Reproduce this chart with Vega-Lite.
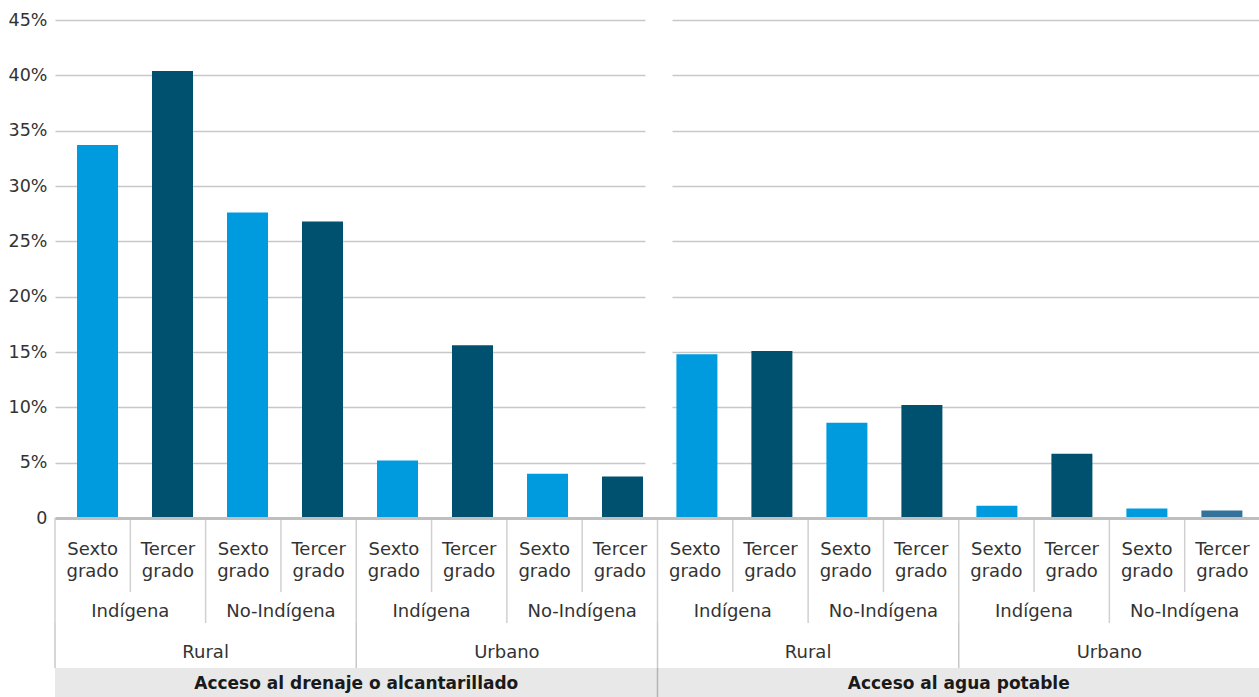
{
  "$schema": "https://vega.github.io/schema/vega-lite/v6.json",
  "padding": {"left": 8, "top": 11, "right": 0, "bottom": 0},
  "bounds": "flush",
  "spacing": 0,
  "config": {
    "font": "DejaVu Sans",
    "view": {"stroke": null},
    "text": {"font": "DejaVu Sans", "fontSize": 18, "color": "#333333"},
    "axis": {"labelFont": "DejaVu Sans"}
  },
  "datasets": {
    "acceso": [
      {"indicador": "Acceso al drenaje o alcantarillado", "area": "Rural", "etnia": "Indígena", "grado": "Sexto grado", "valor": 33.7},
      {"indicador": "Acceso al drenaje o alcantarillado", "area": "Rural", "etnia": "Indígena", "grado": "Tercer grado", "valor": 40.4},
      {"indicador": "Acceso al drenaje o alcantarillado", "area": "Rural", "etnia": "No-Indígena", "grado": "Sexto grado", "valor": 27.6},
      {"indicador": "Acceso al drenaje o alcantarillado", "area": "Rural", "etnia": "No-Indígena", "grado": "Tercer grado", "valor": 26.8},
      {"indicador": "Acceso al drenaje o alcantarillado", "area": "Urbano", "etnia": "Indígena", "grado": "Sexto grado", "valor": 5.2},
      {"indicador": "Acceso al drenaje o alcantarillado", "area": "Urbano", "etnia": "Indígena", "grado": "Tercer grado", "valor": 15.6},
      {"indicador": "Acceso al drenaje o alcantarillado", "area": "Urbano", "etnia": "No-Indígena", "grado": "Sexto grado", "valor": 4.0},
      {"indicador": "Acceso al drenaje o alcantarillado", "area": "Urbano", "etnia": "No-Indígena", "grado": "Tercer grado", "valor": 3.75},
      {"indicador": "Acceso al agua potable", "area": "Rural", "etnia": "Indígena", "grado": "Sexto grado", "valor": 14.8},
      {"indicador": "Acceso al agua potable", "area": "Rural", "etnia": "Indígena", "grado": "Tercer grado", "valor": 15.1},
      {"indicador": "Acceso al agua potable", "area": "Rural", "etnia": "No-Indígena", "grado": "Sexto grado", "valor": 8.6},
      {"indicador": "Acceso al agua potable", "area": "Rural", "etnia": "No-Indígena", "grado": "Tercer grado", "valor": 10.2},
      {"indicador": "Acceso al agua potable", "area": "Urbano", "etnia": "Indígena", "grado": "Sexto grado", "valor": 1.1},
      {"indicador": "Acceso al agua potable", "area": "Urbano", "etnia": "Indígena", "grado": "Tercer grado", "valor": 5.8},
      {"indicador": "Acceso al agua potable", "area": "Urbano", "etnia": "No-Indígena", "grado": "Sexto grado", "valor": 0.86},
      {"indicador": "Acceso al agua potable", "area": "Urbano", "etnia": "No-Indígena", "grado": "Tercer grado", "valor": 0.68}
    ]
  },
  "vconcat": [
    {
      "width": 1205,
      "height": 498,
      "data": {"name": "acceso"},
      "transform": [
        {"calculate": "datum.area + '|' + datum.etnia + '|' + datum.grado", "as": "clave"}
      ],
      "resolve": {"scale": {"x": "independent", "y": "independent"}, "axis": {"y": "independent"}},
      "layer": [
        {
          "transform": [{"filter": "datum.indicador === 'Acceso al drenaje o alcantarillado'"}],
          "mark": {"type": "bar"},
          "encoding": {
            "x": {"field": "clave", "type": "nominal", "sort": null, "axis": null,
                  "scale": {"range": [0, 590], "paddingInner": 0.4533, "paddingOuter": 0.16, "align": 0.917}},
            "y": {"field": "valor", "type": "quantitative", "scale": {"domain": [0, 45]},
                  "axis": {"orient": "left", "values": [0, 5, 10, 15, 20, 25, 30, 35, 40, 45],
                           "labelExpr": "datum.value === 0 ? '0' : datum.value + '%'",
                           "labelFontSize": 17.5, "labelColor": "#333333", "labelPadding": 8,
                           "ticks": false, "domain": false, "grid": true,
                           "gridColor": "#c8c8c8", "gridWidth": 1.5, "title": null}},
            "color": {"field": "grado", "type": "nominal",
                      "scale": {"domain": ["Sexto grado", "Tercer grado"], "range": ["#009BDE", "#00506F"]},
                      "legend": null}
          }
        },
        {
          "transform": [{"filter": "datum.indicador === 'Acceso al agua potable'"}],
          "mark": {"type": "bar"},
          "encoding": {
            "x": {"field": "clave", "type": "nominal", "sort": null, "axis": null,
                  "scale": {"range": [617, 1205], "paddingInner": 0.4533, "paddingOuter": 0.1467, "align": 0.2}},
            "y": {"field": "valor", "type": "quantitative", "scale": {"domain": [0, 45]},
                  "axis": {"orient": "left", "values": [0, 5, 10, 15, 20, 25, 30, 35, 40, 45],
                           "labels": false, "ticks": false, "domain": false, "grid": true,
                           "gridColor": "#c8c8c8", "gridWidth": 1.5, "title": null}},
            "color": {
              "condition": {"test": "datum.area === 'Urbano' && datum.etnia === 'No-Indígena' && datum.grado === 'Tercer grado'", "value": "#33729B"},
              "field": "grado", "type": "nominal",
              "scale": {"domain": ["Sexto grado", "Tercer grado"], "range": ["#009BDE", "#00506F"]},
              "legend": null
            }
          }
        }
      ]
    },
    {
      "width": 1205,
      "height": 74,
      "data": {"name": "acceso"},
      "transform": [
        {"calculate": "datum.indicador + '|' + datum.area + '|' + datum.etnia + '|' + datum.grado", "as": "clave"}
      ],
      "encoding": {
        "x": {"field": "clave", "type": "nominal", "sort": null,
              "scale": {"paddingInner": 0, "paddingOuter": 0},
              "axis": {"orient": "top", "labels": false, "ticks": false, "title": null,
                       "domainColor": "#bfbfbf", "domainWidth": 3, "zindex": 1}}
      },
      "layer": [
        {
          "mark": {"type": "rule", "color": "#d0d0d0", "strokeWidth": 1.5},
          "encoding": {"x": {"field": "clave", "type": "nominal", "sort": null, "bandPosition": 0}}
        },
        {
          "mark": {"type": "text", "lineBreak": " ", "fontSize": 18, "lineHeight": 22, "dy": -5},
          "encoding": {"text": {"field": "grado"}}
        }
      ]
    },
    {
      "width": 1205,
      "height": 31,
      "data": {"name": "acceso"},
      "transform": [
        {"filter": "datum.grado === 'Sexto grado'"},
        {"calculate": "datum.indicador + '|' + datum.area + '|' + datum.etnia", "as": "clave"}
      ],
      "encoding": {
        "x": {"field": "clave", "type": "nominal", "sort": null,
              "scale": {"paddingInner": 0, "paddingOuter": 0}, "axis": null}
      },
      "layer": [
        {
          "mark": {"type": "rule", "color": "#d0d0d0", "strokeWidth": 1.5},
          "encoding": {"x": {"field": "clave", "type": "nominal", "sort": null, "bandPosition": 0}}
        },
        {
          "mark": {"type": "text", "fontSize": 18, "dy": 4},
          "encoding": {"text": {"field": "etnia"}}
        }
      ]
    },
    {
      "width": 1205,
      "height": 45,
      "data": {"name": "acceso"},
      "transform": [
        {"filter": "datum.grado === 'Sexto grado' && datum.etnia === 'Indígena'"},
        {"calculate": "datum.indicador + '|' + datum.area", "as": "clave"}
      ],
      "encoding": {
        "x": {"field": "clave", "type": "nominal", "sort": null,
              "scale": {"paddingInner": 0, "paddingOuter": 0}, "axis": null}
      },
      "layer": [
        {
          "mark": {"type": "rule", "color": "#c8c8c8", "strokeWidth": 1.5},
          "encoding": {"x": {"field": "clave", "type": "nominal", "sort": null, "bandPosition": 0}}
        },
        {
          "mark": {"type": "text", "fontSize": 18, "dy": 7},
          "encoding": {"text": {"field": "area"}}
        }
      ]
    },
    {
      "width": 1205,
      "height": 30,
      "data": {"name": "acceso"},
      "transform": [
        {"filter": "datum.grado === 'Sexto grado' && datum.etnia === 'Indígena' && datum.area === 'Rural'"}
      ],
      "encoding": {
        "x": {"field": "indicador", "type": "nominal", "sort": null,
              "scale": {"paddingInner": 0, "paddingOuter": 0}, "axis": null}
      },
      "layer": [
        {
          "mark": {"type": "bar", "color": "#e8e8e8"}
        },
        {
          "transform": [{"filter": "datum.indicador === 'Acceso al agua potable'"}],
          "mark": {"type": "rule", "color": "#b4b4b4", "strokeWidth": 1.5},
          "encoding": {"x": {"field": "indicador", "type": "nominal", "sort": null, "bandPosition": 0}}
        },
        {
          "mark": {"type": "text", "fontSize": 17, "fontWeight": "bold", "color": "#1a1a1a", "dy": 1},
          "encoding": {"text": {"field": "indicador"}}
        }
      ]
    }
  ]
}
